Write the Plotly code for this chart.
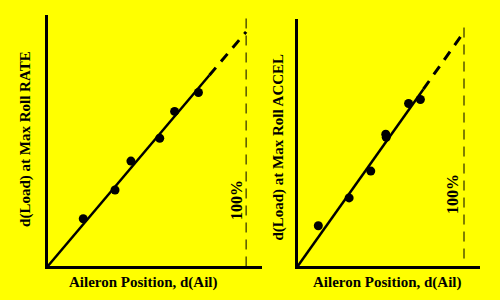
import plotly.graph_objects as go

# Left panel: d(Load) at max roll RATE vs aileron position (% of full)
rate_x = [18, 34, 42, 56.5, 64, 76]
rate_y = [24, 38.5, 53, 64.5, 78, 87.5]
rate_fit_solid_x = [0, 81.5]
rate_fit_solid_y = [0, 96.2]
rate_fit_dash_x = [81.5, 100]
rate_fit_dash_y = [96.2, 118]

# Right panel: d(Load) at max roll ACCEL vs aileron position
accel_x = [12.5, 31, 44, 53, 53.3, 66.7, 73.8]
accel_y = [20.5, 34.5, 48, 66.5, 65, 82, 84]
accel_fit_solid_x = [0, 75.6]
accel_fit_solid_y = [0, 89.2]
accel_fit_dash_x = [75.6, 100]
accel_fit_dash_y = [89.2, 118]

full_aileron = 100
x_title = "Aileron Position, d(Ail)"
y_titles = ["d(Load) at Max Roll RATE", "d(Load) at Max Roll ACCEL"]
full_label = "100%"

FONT = "Liberation Serif"
fig = go.Figure()

panels = [
    ("x", "y", rate_x, rate_y, rate_fit_solid_x, rate_fit_solid_y, rate_fit_dash_x, rate_fit_dash_y, [0, 126.5]),
    ("x2", "y2", accel_x, accel_y, accel_fit_solid_x, accel_fit_solid_y, accel_fit_dash_x, accel_fit_dash_y, [4, 123]),
]
for xa, ya, px, py, sx, sy, dx, dy, vline_y in panels:
    fig.add_trace(go.Scatter(x=[full_aileron, full_aileron], y=vline_y, xaxis=xa, yaxis=ya,
                             mode="lines", line=dict(color="black", width=1, dash="10px,7px"),
                             showlegend=False, hoverinfo="skip"))
    fig.add_trace(go.Scatter(x=sx, y=sy, xaxis=xa, yaxis=ya, mode="lines",
                             line=dict(color="black", width=2.5), showlegend=False))
    fig.add_trace(go.Scatter(x=dx, y=dy, xaxis=xa, yaxis=ya, mode="lines",
                             line=dict(color="black", width=3, dash="10px,8px"), showlegend=False))
    fig.add_trace(go.Scatter(x=px, y=py, xaxis=xa, yaxis=ya, mode="markers",
                             marker=dict(color="black", size=9), showlegend=False))

axis_common = dict(showline=True, linecolor="black", linewidth=3, showgrid=False,
                   zeroline=False, showticklabels=False, ticks="", mirror=False)

fig.update_layout(
    width=500, height=300,
    margin=dict(l=0, r=0, t=0, b=0),
    paper_bgcolor="#ffff00", plot_bgcolor="#ffff00",
    xaxis=dict(domain=[0.095, 0.524], range=[0, 108], anchor="y", **axis_common),
    yaxis=dict(domain=[0.1117, 0.95], range=[0, 126.5], anchor="x", **axis_common),
    xaxis2=dict(domain=[0.595, 0.96], range=[0, 109.6], anchor="y2", **axis_common),
    yaxis2=dict(domain=[0.1117, 0.9367], range=[0, 124.5], anchor="x2", **axis_common),
)

font = dict(family=FONT, size=15, color="black", weight="bold")
ann = [
    dict(text=x_title, x=0.286, y=0.0567, textangle=0, size=15),
    dict(text=x_title, x=0.774, y=0.0567, textangle=0, size=15),
    dict(text=y_titles[0], x=0.052, y=0.537, textangle=-90, size=15),
    dict(text=y_titles[1], x=0.558, y=0.508, textangle=-90, size=15),
    dict(text=full_label, x=0.472, y=0.333, textangle=-90, size=16),
    dict(text=full_label, x=0.904, y=0.353, textangle=-90, size=16),
]
for a in ann:
    sz = a.pop("size")
    fig.add_annotation(xref="paper", yref="paper", xanchor="center", yanchor="middle",
                       showarrow=False, font=dict(font, size=sz), **a)

fig.write_html("out.html")
